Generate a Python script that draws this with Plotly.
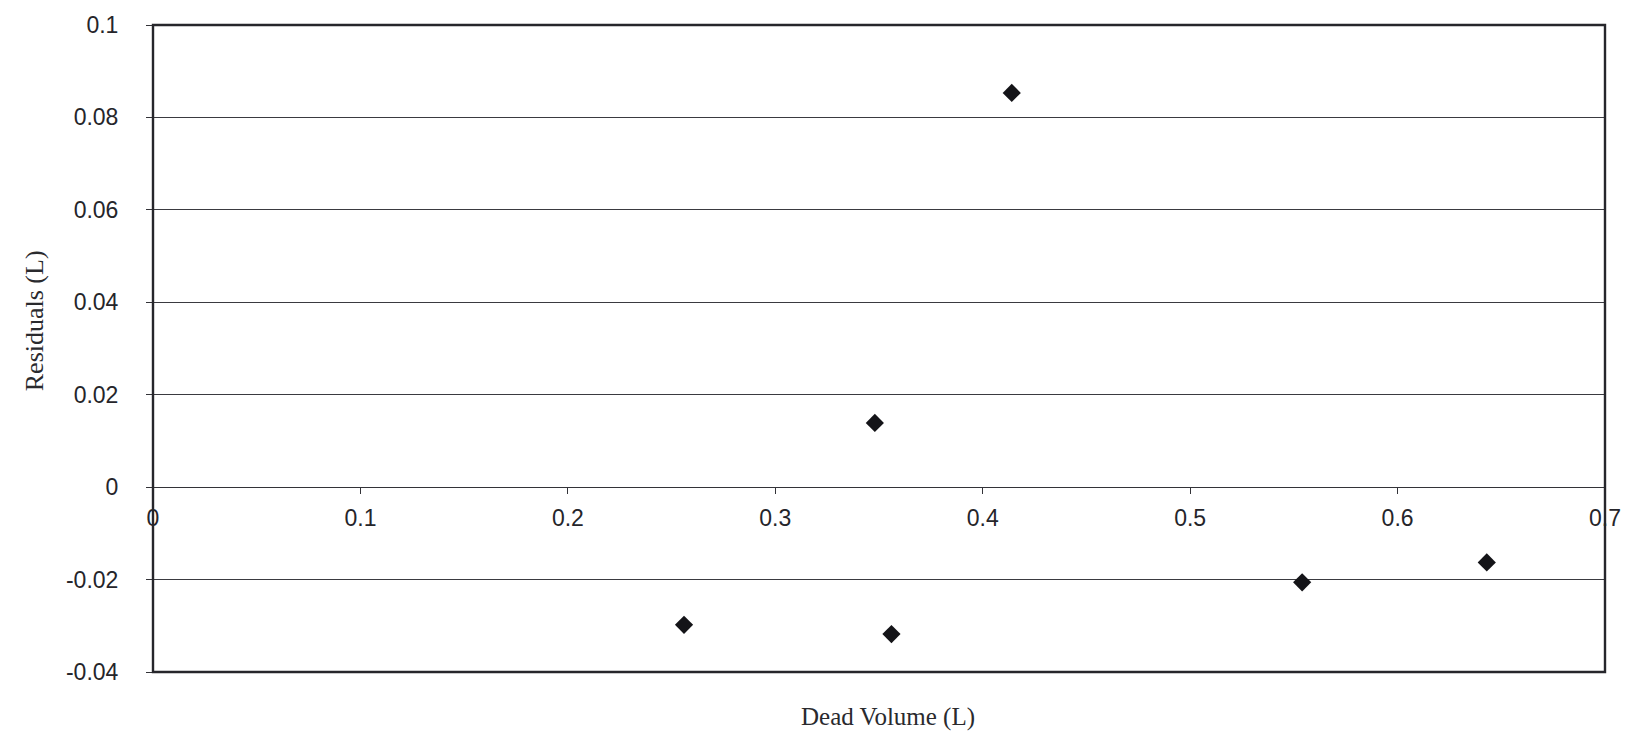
import plotly.graph_objects as go

# Residuals of the dead-volume fit
dead_volume = [0.256, 0.348, 0.356, 0.414, 0.554, 0.643]
residuals = [-0.0298, 0.0139, -0.0318, 0.0853, -0.0206, -0.0163]

x_ticks = [0, 0.1, 0.2, 0.3, 0.4, 0.5, 0.6, 0.7]
x_ticktext = ["0", "0.1", "0.2", "0.3", "0.4", "0.5", "0.6", "0.7"]
y_ticks = [-0.04, -0.02, 0, 0.02, 0.04, 0.06, 0.08, 0.1]
y_ticktext = ["-0.04", "-0.02", "0", "0.02", "0.04", "0.06", "0.08", "0.1"]

X_RANGE = [0, 0.7]
Y_RANGE = [-0.04, 0.1]

W, H = 1635, 734
ML, MR, MT, MB = 153, 30, 19, 62

fig = go.Figure()
fig.add_trace(go.Scatter(
    x=dead_volume, y=residuals, mode="markers",
    marker=dict(symbol="diamond", size=14, color="#141418"),
    showlegend=False, cliponaxis=False,
))

tick_font = dict(family="Liberation Sans, Arial, sans-serif", size=23, color="#25252a")
x_title_font = dict(family="Liberation Serif, Times New Roman, serif", size=25, color="#2a2a2e")
y_title_font = dict(family="Liberation Serif, Times New Roman, serif", size=26, color="#2a2a2e")

# x axis crosses at y = 0
x_cross = (0 - Y_RANGE[0]) / (Y_RANGE[1] - Y_RANGE[0])

fig.update_layout(
    width=W, height=H,
    margin=dict(l=ML, r=MR, t=MT, b=MB),
    paper_bgcolor="white", plot_bgcolor="white",
    xaxis=dict(
        range=X_RANGE, tickvals=x_ticks, ticktext=x_ticktext,
        anchor="free", position=x_cross,
        showgrid=False, zeroline=False,
        showline=True, linecolor="#333338", linewidth=1.3,
        ticks="outside", ticklen=6, tickcolor="#333338", tickwidth=1,
        ticklabelstandoff=4,
        tickfont=tick_font,
    ),
    yaxis=dict(
        range=Y_RANGE, tickvals=y_ticks, ticktext=y_ticktext,
        showgrid=True, gridcolor="#3a3a40", gridwidth=1.2,
        zeroline=False, showline=False,
        ticks="outside", ticklen=6, tickcolor="#333338", tickwidth=1,
        ticklabelstandoff=23,
        tickfont=tick_font,
    ),
    shapes=[dict(
        type="rect", xref="paper", yref="paper", x0=0, x1=1, y0=0, y1=1,
        line=dict(color="#26262b", width=2.4), layer="above",
    )],
    annotations=[
        dict(text="Dead Volume (L)", xref="paper", yref="paper",
             x=(888 - ML) / (W - ML - MR), y=(H - MB - 717) / (H - MT - MB),
             showarrow=False, font=x_title_font, xanchor="center", yanchor="middle"),
        dict(text="Residuals (L)", xref="paper", yref="paper",
             x=(34 - ML) / (W - ML - MR), y=(H - MB - 318) / (H - MT - MB),
             showarrow=False, font=y_title_font, textangle=-90,
             xanchor="center", yanchor="middle"),
    ],
)

fig.write_html("out.html")
